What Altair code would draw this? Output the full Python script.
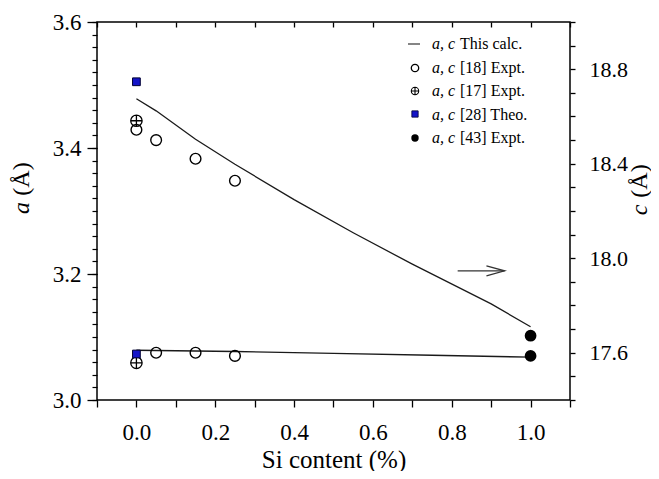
import altair as alt
import pandas as pd

# ---------------- data ----------------
# calculated c (right axis) and a (left axis) vs Si content
x_calc_c = [0.0, 0.05, 0.15, 0.25, 0.40, 0.55, 0.70, 0.90, 1.0]
c_calc = [18.675, 18.624, 18.504, 18.398, 18.248, 18.108, 17.975, 17.807, 17.710]
x_calc_a = [0.0, 0.25, 0.50, 0.75, 1.0]
a_calc = [3.079, 3.077, 3.074, 3.071, 3.068]

# [18] Expt. (open circles)
x_ref18_c = [0.0, 0.05, 0.15, 0.25]
c_ref18 = [18.544, 18.500, 18.421, 18.328]
x_ref18_a = [0.05, 0.15, 0.25]
a_ref18 = [3.075, 3.075, 3.070]

# [17] Expt. (crossed circles)
x_ref17 = [0.0]
a_ref17 = [3.059]
c_ref17 = [18.582]

# [28] Theo. (blue squares)
x_ref28 = [0.0]
a_ref28 = [3.073]
c_ref28 = [18.747]

# [43] Expt. (filled circles)
x_ref43 = [1.0]
a_ref43 = [3.070]
c_ref43 = [17.672]

# arrow pointing to the right axis
arrow_x = [0.815, 0.934]
arrow_a = [3.205, 3.205]
head_x = [0.888, 0.934, 0.888]
head_a = [3.213, 3.205, 3.197]

legend_italic = ["a, c", "a, c", "a, c", "a, c", "a, c"]
legend_labels = ["This calc.", "[18] Expt.", "[17] Expt.", "[28] Theo.", "[43] Expt."]

x_ticks = [round(-0.1 + 0.1 * i, 1) for i in range(13)]
a_major = [3.0, 3.2, 3.4, 3.6]
a_minor = [round(3.0 + 0.02 * i, 2) for i in range(31)]
c_ticks = [round(17.4 + 0.1 * i, 1) for i in range(17)]

# ---------------- styling ----------------
SERIF = "Liberation Serif"
XS = alt.Scale(domain=[-0.1, 1.1], nice=False, zero=False)
AS = alt.Scale(domain=[3.0, 3.6], nice=False, zero=False)
CS = alt.Scale(domain=[17.4, 19.0], nice=False, zero=False)
CROSS = "M-1,0A1,1 0 1,0 1,0A1,1 0 1,0 -1,0M-1,0L1,0M0,-1L0,1"

ax_common = dict(grid=False, labelFont=SERIF, labelColor="black", tickColor="black",
                 domainColor="black", labelFlush=False, labelOverlap=False, labelBound=False)

x_bottom = alt.Axis(values=x_ticks, orient="bottom", tickSize=7, tickWidth=1.3,
                    labelExpr="abs(round(datum.value*10)) % 2 == 0 ? format(datum.value, '.1f') : ''",
                    labelFontSize=23, labelPadding=14, domain=False,
                    title="Si content (%)", titleFont=SERIF, titleFontSize=25,
                    titleFontWeight="normal", titleColor="black", titlePadding=3, **ax_common)
x_top = alt.Axis(values=x_ticks, orient="top", tickSize=5, tickWidth=1.3, offset=-5,
                 labels=False, domain=False, title=None, **ax_common)
a_minor_ax = alt.Axis(values=a_minor, orient="left", tickSize=5, tickWidth=1.2, labels=False,
                      domain=False, title=None, **ax_common)
a_major_ax = alt.Axis(values=a_major, orient="left", tickSize=10, tickWidth=1.3, format=".1f",
                      labelFontSize=23, labelPadding=6, domain=False, title=None, **ax_common)
c_ax = alt.Axis(values=c_ticks, orient="right", tickSize=5, tickWidth=1.3,
                labelExpr="round(datum.value*10) % 4 == 0 ? format(datum.value, '.1f') : ''",
                labelFontSize=22, labelPadding=14, domain=False, title=None, **ax_common)


def df(xs, ys, name):
    return pd.DataFrame({"x": xs, name: ys})


def X(axis=None):
    return alt.X("x:Q", scale=XS, axis=axis)


def YA(axis=None):
    return alt.Y("a:Q", scale=AS, axis=axis)


def YC(axis=None):
    return alt.Y("c:Q", scale=CS, axis=axis)


line_style = dict(color="#1a1a1a", strokeWidth=1.3)
open_circ = dict(shape="circle", filled=False, stroke="black", strokeWidth=1.4, size=115, opacity=1)
cross_circ = dict(shape=CROSS, filled=False, stroke="black", strokeWidth=1.3, size=130, opacity=1)
sq_style = dict(shape="square", filled=True, fill="#1414c8", stroke="#000033", strokeWidth=1,
                size=60, opacity=1)
dot_style = dict(shape="circle", filled=True, fill="black", stroke="black", size=95, opacity=1)

layers = []
# a (left axis) layers
layers.append(alt.Chart(df(x_calc_a, a_calc, "a")).mark_line(**line_style)
              .encode(x=X(x_bottom), y=YA(a_minor_ax)))
layers.append(alt.Chart(df(x_ref18_a, a_ref18, "a")).mark_point(**open_circ)
              .encode(x=X(), y=YA(a_major_ax)))
layers.append(alt.Chart(df(x_ref17, a_ref17, "a")).mark_point(**cross_circ)
              .encode(x=X(), y=YA()))
layers.append(alt.Chart(df(x_ref28, a_ref28, "a")).mark_point(**sq_style)
              .encode(x=X(), y=YA()))
layers.append(alt.Chart(df(x_ref43, a_ref43, "a")).mark_point(**dot_style)
              .encode(x=X(), y=YA()))
# c (right axis) layers
layers.append(alt.Chart(df(x_calc_c, c_calc, "c")).mark_line(**line_style)
              .encode(x=X(x_top), y=YC(c_ax)))
layers.append(alt.Chart(df(x_ref18_c, c_ref18, "c")).mark_point(**open_circ)
              .encode(x=X(), y=YC()))
layers.append(alt.Chart(df(x_ref17, c_ref17, "c")).mark_point(**cross_circ)
              .encode(x=X(), y=YC()))
layers.append(alt.Chart(df(x_ref28, c_ref28, "c")).mark_point(**sq_style)
              .encode(x=X(), y=YC()))
layers.append(alt.Chart(df(x_ref43, c_ref43, "c")).mark_point(**dot_style)
              .encode(x=X(), y=YC()))
# arrow
layers.append(alt.Chart(df(arrow_x, arrow_a, "a")).mark_line(color="#333", strokeWidth=1.3)
              .encode(x=X(), y=YA()))
head = df(head_x, head_a, "a")
head["o"] = [0, 1, 2]
layers.append(alt.Chart(head).mark_line(color="#333", strokeWidth=1.3)
              .encode(x=X(), y=YA(), order="o:Q"))

# legend (manual, mixed italic / roman text)
leg = pd.DataFrame({"row": list(range(5)), "it": legend_italic, "lab": legend_labels})
LEGY = alt.Y("row:Q", scale=alt.Scale(domain=[0, 4], range=[22, 116]), axis=None)
layers.append(alt.Chart(leg).mark_text(font=SERIF, fontSize=16, fontStyle="italic", align="left",
                                       baseline="middle", color="black")
              .encode(x=alt.value(335), y=LEGY, text="it:N"))
layers.append(alt.Chart(leg).mark_text(font=SERIF, fontSize=16, align="left",
                                       baseline="middle", color="black")
              .encode(x=alt.value(363), y=LEGY, text="lab:N"))
one = pd.DataFrame({"k": [0]})
layers.append(alt.Chart(one).mark_rule(color="#333", strokeWidth=1.2)
              .encode(x=alt.value(311), x2=alt.value(323), y=alt.value(22)))
layers.append(alt.Chart(one).mark_point(shape="circle", filled=False, stroke="black", strokeWidth=1.3,
                                        size=55, opacity=1)
              .encode(x=alt.value(318), y=alt.value(46)))
layers.append(alt.Chart(one).mark_point(shape=CROSS, filled=False, stroke="black", strokeWidth=1.1,
                                        size=55, opacity=1)
              .encode(x=alt.value(318), y=alt.value(69)))
layers.append(alt.Chart(one).mark_point(shape="square", filled=True, fill="#1414c8", stroke="#000033",
                                        strokeWidth=0.8, size=40, opacity=1)
              .encode(x=alt.value(318), y=alt.value(92)))
layers.append(alt.Chart(one).mark_point(shape="circle", filled=True, fill="black", size=55, opacity=1)
              .encode(x=alt.value(318), y=alt.value(116)))

# axis titles (mixed italic)
def title_text(txt, italic, x, y):
    return (alt.Chart(one)
            .mark_text(font=SERIF, fontSize=24, fontStyle="italic" if italic else "normal",
                       angle=270, align="center", baseline="middle", color="black")
            .encode(x=alt.value(x), y=alt.value(y), text=alt.value(txt)))

layers.append(title_text("a", True, -75, 186))
layers.append(title_text("(Å)", False, -75, 157))
layers.append(title_text("c", True, 543, 188))
layers.append(title_text("(Å)", False, 543, 159))

chart = (alt.layer(*layers)
         .resolve_scale(y="independent")
         .resolve_axis(x="independent", y="independent")
         .properties(width=473, height=378,
                     padding={"left": 89, "top": 14, "right": 81, "bottom": 71},
                     autosize=alt.AutoSizeParams(type="none"), background="white")
         .configure(font=SERIF)
         .configure_axis(labelFont=SERIF, titleFont=SERIF, labelColor="black", titleColor="black")
         .configure_text(font=SERIF)
         .configure_view(stroke="black", strokeWidth=1.5))

chart.save("out.html", embed_options={"renderer": "svg", "actions": False})
